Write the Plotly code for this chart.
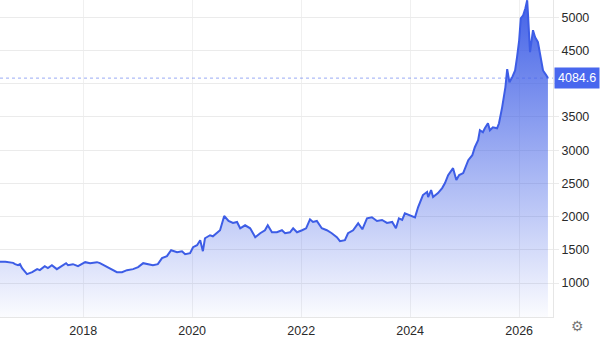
import plotly.graph_objects as go

dates = [
    "2016-06-22", "2016-07-28", "2016-09-18", "2016-10-01", "2016-10-21", "2016-11-03",
    "2016-11-17", "2016-12-20", "2017-01-24", "2017-02-26", "2017-03-16", "2017-04-18",
    "2017-05-09", "2017-06-05", "2017-07-08", "2017-08-12", "2017-09-08", "2017-09-21",
    "2017-10-24", "2017-11-27", "2017-12-25", "2018-01-14", "2018-02-16", "2018-04-03",
    "2018-04-23", "2018-06-09", "2018-08-15", "2018-09-18", "2018-10-21", "2018-12-01",
    "2019-01-04", "2019-02-07", "2019-03-10", "2019-04-13", "2019-05-16", "2019-06-13",
    "2019-07-16", "2019-08-13", "2019-09-22", "2019-10-25", "2019-11-15", "2019-12-18",
    "2020-01-07", "2020-02-03", "2020-02-24", "2020-03-13", "2020-03-27", "2020-04-30",
    "2020-05-19", "2020-06-15", "2020-07-06", "2020-08-03", "2020-09-01", "2020-10-01",
    "2020-10-28", "2020-11-18", "2020-12-21", "2021-01-24", "2021-02-27", "2021-04-01",
    "2021-05-03", "2021-05-22", "2021-06-19", "2021-07-22", "2021-08-25", "2021-09-15",
    "2021-10-18", "2021-11-08", "2021-12-04", "2022-01-07", "2022-02-03", "2022-03-01",
    "2022-03-21", "2022-04-16", "2022-05-19", "2022-06-22", "2022-07-25", "2022-08-28",
    "2022-09-18", "2022-10-21", "2022-11-11", "2022-12-15", "2023-01-18", "2023-02-15",
    "2023-03-18", "2023-04-20", "2023-05-24", "2023-06-27", "2023-07-30", "2023-09-03",
    "2023-09-28", "2023-10-18", "2023-11-09", "2023-11-27", "2024-01-01", "2024-02-03",
    "2024-02-24", "2024-03-27", "2024-04-24", "2024-05-01", "2024-05-21", "2024-06-03",
    "2024-07-06", "2024-08-03", "2024-08-22", "2024-09-12", "2024-10-15", "2024-11-06",
    "2024-11-25", "2024-12-22", "2025-01-25", "2025-02-21", "2025-03-10", "2025-04-01",
    "2025-04-13", "2025-05-03", "2025-05-16", "2025-06-06", "2025-06-19", "2025-07-09",
    "2025-08-06", "2025-08-19", "2025-09-09", "2025-10-01", "2025-10-13", "2025-10-28",
    "2025-11-18", "2025-12-05", "2025-12-18", "2026-01-01", "2026-01-12", "2026-01-28",
    "2026-02-12", "2026-02-24", "2026-03-01", "2026-03-15", "2026-04-04", "2026-04-18",
    "2026-05-07", "2026-05-27", "2026-06-10", "2026-07-01", "2026-07-13",
]

prices = [
    1320, 1320, 1305, 1285, 1270, 1285,
    1225, 1135, 1165, 1210, 1195, 1255,
    1225, 1270, 1210, 1255, 1300, 1270,
    1285, 1255, 1285, 1315, 1300, 1315,
    1300, 1240, 1165, 1165, 1195, 1210,
    1240, 1300, 1285, 1270, 1285, 1375,
    1405, 1495, 1465, 1480, 1435, 1450,
    1540, 1570, 1645, 1480, 1675, 1720,
    1705, 1750, 1795, 2010, 1935, 1905,
    1920, 1825, 1870, 1825, 1690, 1750,
    1795, 1870, 1765, 1765, 1795, 1750,
    1765, 1825, 1765, 1795, 1825, 1960,
    1920, 1935, 1825, 1795, 1750, 1690,
    1630, 1645, 1750, 1795, 1900, 1810,
    1975, 1990, 1935, 1950, 1905, 1920,
    1825, 1975, 1950, 2050, 2020, 1990,
    2145, 2325, 2370, 2295, 2400, 2295,
    2355, 2430, 2505, 2625, 2730, 2550,
    2625, 2655, 2850, 2925, 3045, 3150,
    3300, 3270, 3330, 3405, 3300, 3345,
    3330, 3405, 3645, 3950, 4220, 4020,
    4110, 4200, 4400, 4650, 4985, 5030,
    5135, 5255, 5060, 4475, 4805, 4700,
    4625, 4385, 4200, 4130, 4085,
]

last_price = 4084.6
y_ticks = [1000, 1500, 2000, 2500, 3000, 3500, 4000, 4500, 5000]
y_tick_text = ["1000", "1500", "2000", "2500", "3000", "3500", "", "4500", "5000"]

LINE = "#3d5de6"

fig = go.Figure()
fig.add_trace(go.Scatter(
    x=dates, y=prices, mode="lines",
    line=dict(color=LINE, width=2),
    fill="tozeroy",
    fillgradient=dict(
        type="vertical",
        start=480, stop=5260,
        colorscale=[[0, "rgba(61,93,230,0.02)"], [1, "rgba(61,93,230,0.97)"]],
    ),
    hoverinfo="skip",
    showlegend=False,
))

fig.add_shape(type="line", xref="paper", x0=0, x1=1, yref="y", y0=last_price, y1=last_price,
              line=dict(color="rgba(70,100,235,0.55)", width=1, dash="dot"), layer="above")

fig.add_annotation(xref="paper", x=1, xanchor="left", yref="y", y=last_price, yanchor="middle",
                   text="4084.6", showarrow=False, bgcolor="#4867ee", borderpad=3,
                   font=dict(color="white", size=12.5, family="Arial"), xshift=1)

fig.add_annotation(xref="paper", x=1, xanchor="left", yref="paper", y=0, yanchor="top",
                   text="⚙", showarrow=False, font=dict(color="#777", size=14, family="DejaVu Sans"),
                   xshift=17, yshift=0, borderpad=0)

fig.update_layout(
    width=600, height=338,
    margin=dict(l=0, r=47, t=0, b=21),
    paper_bgcolor="white", plot_bgcolor="white",
    font=dict(family="Arial", size=12.5, color="#2a2a2a"),
    xaxis=dict(
        type="date",
        range=["2016-06-22", "2026-08-16"],
        tick0="2018-01-01", dtick="M24", tickformat="%Y",
        showgrid=True, gridcolor="#f0f0f0", gridwidth=1,
        showline=True, linecolor="#e6e6e6", linewidth=1,
        ticks="", ticklabelstandoff=2,
        zeroline=False, fixedrange=True,
    ),
    yaxis=dict(
        side="right",
        range=[490, 5260],
        tickvals=y_ticks, ticktext=y_tick_text,
        showgrid=True, gridcolor="#ebebeb", gridwidth=1,
        showline=True, linecolor="#e6e6e6", linewidth=1,
        ticks="outside", ticklen=5, tickcolor="#ebebeb",
        zeroline=False, fixedrange=True,
    ),
)

fig.write_html("out.html")
